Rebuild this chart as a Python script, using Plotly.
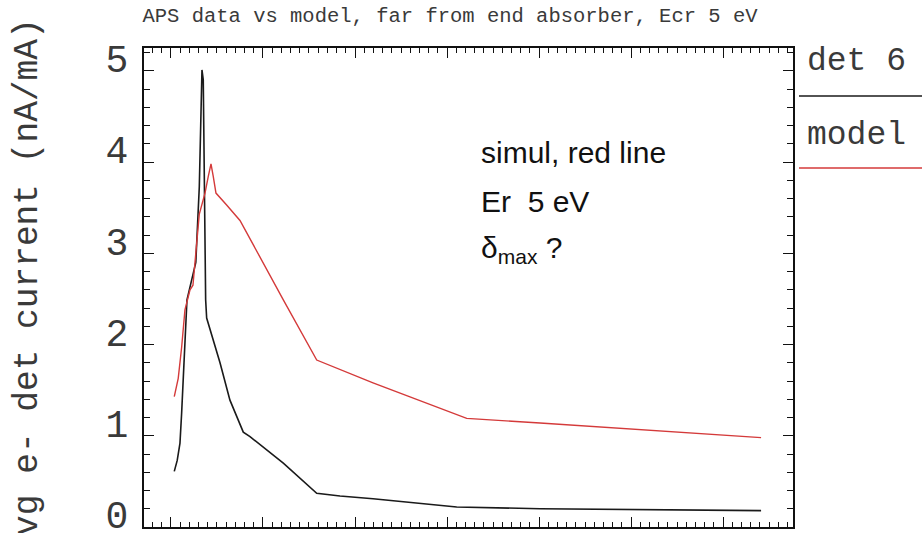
import plotly.graph_objects as go

# data (x in arbitrary position units; major tick every 10)
det6_x = [0.36, 0.68, 0.98, 1.16, 1.74, 2.7, 3.08, 3.26, 3.37, 3.51, 3.77, 3.88, 5.33, 6.41,
          7.86, 8.59, 10.40, 12.21, 15.84, 18.37, 21.96, 31.05, 40.11, 57.14, 64.13]
det6_y = [0.61, 0.73, 0.92, 1.25, 2.49, 2.9, 3.73, 4.40, 5.01, 4.90, 2.49, 2.29, 1.80, 1.39,
          1.04, 0.99, 0.84, 0.70, 0.37, 0.34, 0.31, 0.22, 0.20, 0.19, 0.18]

model_x = [0.36, 0.79, 1.16, 1.52, 2.07, 2.39, 3.08, 3.70, 4.05, 4.35, 4.60, 4.89, 6.05, 7.50,
           12.21, 15.84, 21.96, 27.39, 32.14, 40.11, 50.22, 64.13]
model_y = [1.43, 1.63, 1.97, 2.38, 2.60, 2.65, 3.43, 3.66, 3.84, 3.98, 3.84, 3.66, 3.53, 3.36,
           2.49, 1.83, 1.58, 1.37, 1.19, 1.14, 1.07, 0.98]

y_ticks = [0, 1, 2, 3, 4, 5]
title_text = "APS data vs model, far from end absorber, Ecr 5 eV"
y_title = "avg e- det current (nA/mA)"
legend_names = ["det 6", "model"]
note_lines = ["simul, red line", "Er  5 eV", "δ<sub>max</sub> ?"]

MONO = "Liberation Mono"
ARIAL = "Liberation Sans, Arial"
TXT = "#3a3a3a"

fig = go.Figure()
fig.add_trace(go.Scatter(x=det6_x, y=det6_y, mode="lines",
                         line=dict(color="#1a1a1a", width=1.6), name=legend_names[0]))
fig.add_trace(go.Scatter(x=model_x, y=model_y, mode="lines",
                         line=dict(color="#d43a3a", width=1.4), name=legend_names[1]))

W, H = 922, 533
L, R, T, B = 144, 793, 48, 527

fig.update_layout(
    width=W, height=H,
    margin=dict(l=L, r=W - R, t=T, b=H - B, autoexpand=False),
    paper_bgcolor="white", plot_bgcolor="white",
    showlegend=False,
    title=dict(text=title_text, x=450 / W, xref="container", xanchor="center",
               y=1 - 15 / H, yref="container", yanchor="middle",
               font=dict(family=MONO, size=20.5, color=TXT)),
)

fig.update_xaxes(range=[-2.93, 67.6], showgrid=False, zeroline=False, automargin=False,
                 showline=True, linecolor="#111", linewidth=2, mirror="allticks",
                 ticks="inside", ticklen=10, tickwidth=1.3, tickcolor="#111",
                 dtick=10, tick0=0, showticklabels=False,
                 minor=dict(ticks="inside", ticklen=5, dtick=1, tickwidth=1.2, tickcolor="#111"))

fig.update_yaxes(range=[0, 5.25], showgrid=False, zeroline=False, automargin=False,
                 showline=True, linecolor="#111", linewidth=2, mirror="allticks",
                 ticks="inside", ticklen=10, tickwidth=1.3, tickcolor="#111",
                 tickvals=y_ticks, ticktext=[str(v) for v in y_ticks],
                 tickfont=dict(family=MONO, size=38, color=TXT),
                 ticklabelstandoff=6, ticklabelshift=-12, ticklabeloverflow="allow",
                 minor=dict(ticks="inside", ticklen=6, dtick=0.2, tickwidth=1.2, tickcolor="#111"),
                 title=dict(text=y_title, font=dict(family=MONO, size=34.5, color=TXT), standoff=58))

# legend drawn at right
def py(p):
    return 1 - (p - T) / (B - T)

def px(p):
    return (p - L) / (R - L)

fig.add_annotation(text=legend_names[0], xref="paper", yref="paper", x=px(805), y=py(61),
                   xanchor="left", yanchor="middle", showarrow=False,
                   font=dict(family=MONO, size=33, color=TXT))
fig.add_annotation(text=legend_names[1], xref="paper", yref="paper", x=px(805), y=py(135),
                   xanchor="left", yanchor="middle", showarrow=False,
                   font=dict(family=MONO, size=33, color=TXT))
fig.add_shape(type="line", xref="paper", yref="paper", x0=px(799), x1=px(922),
              y0=py(96), y1=py(96), line=dict(color="#1a1a1a", width=1.5))
fig.add_shape(type="line", xref="paper", yref="paper", x0=px(799), x1=px(922),
              y0=py(168), y1=py(168), line=dict(color="#d43a3a", width=1.5))

for txt, yc in zip(note_lines, [152, 201, 249]):
    fig.add_annotation(text=txt, xref="paper", yref="paper", x=px(479), y=py(yc),
                       xanchor="left", yanchor="middle", showarrow=False,
                       font=dict(family=ARIAL, size=30, color="#111"))

fig.write_html("out.html")
